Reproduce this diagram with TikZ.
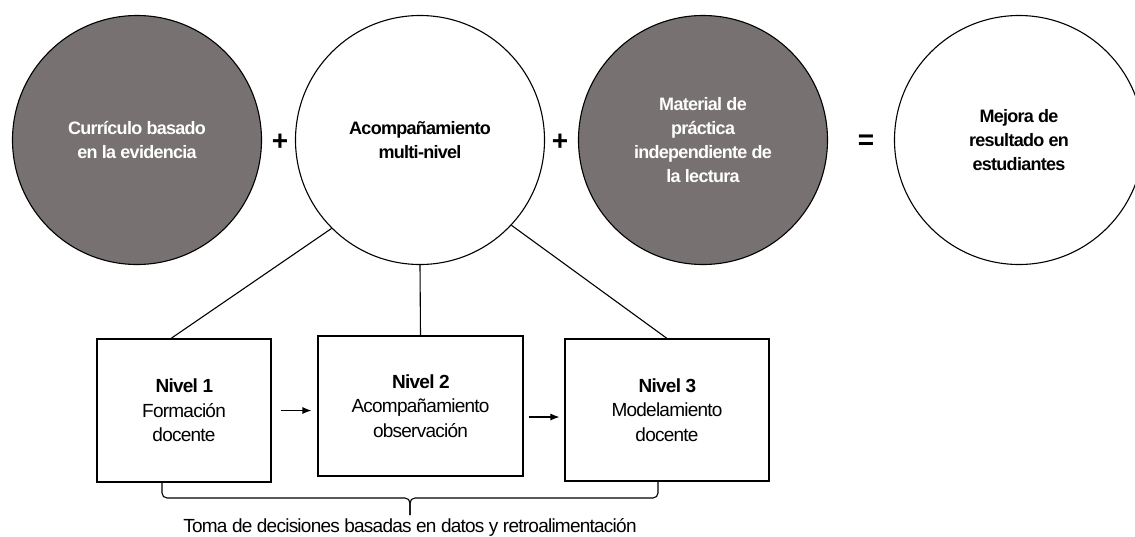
\documentclass[tikz,border=0pt]{standalone}
\usepackage{fontspec}
\setmainfont[LetterSpace=-4]{Liberation Sans}
\usetikzlibrary{arrows.meta}
\definecolor{grisc}{RGB}{119,113,113}

\begin{document}
\begin{tikzpicture}[x=1pt,y=-1pt,line width=1.1pt,
  circ/.style={circle,draw,minimum size=249pt,inner sep=0pt,align=center,
    font=\fontsize{18}{24}\selectfont\bfseries},
  gris/.style={circ,fill=grisc,text=white},
  nivel/.style={draw,align=center,inner sep=0pt,
    font=\fontsize{19}{24.5}\selectfont},
  flecha/.style={-{Latex[length=9pt,width=7pt]}},
  signo/.style={font=\fontsize{28}{28}\selectfont\bfseries}]
 \useasboundingbox (0,0) rectangle (1135,536);
 % fila de arriba
 \node[gris] (c1) at (137,140) {Currículo basado\\en la evidencia};
 \node[circ] (c2) at (420,140) {Acompañamiento\\multi-nivel};
 \node[gris] (c3) at (703,140) {Material de\\práctica\\independiente de\\la lectura};
 \node[circ] (c4) at (1019,140) {Mejora de\\resultado en\\estudiantes};
 \node[signo] (mas1) at (280,142) {+};
 \node[signo] (mas2) at (560,142) {+};
 \node[signo] (igual) at (866,142) {=};
 % niveles
 \node[nivel,minimum width=174pt,minimum height=143pt] (n1) at (184,410.5)
   {\textbf{Nivel 1}\\Formación\\docente};
 \node[nivel,minimum width=205pt,minimum height=140pt] (n2) at (420.5,406)
   {\textbf{Nivel 2}\\Acompañamiento\\observación};
 \node[nivel,minimum width=204pt,minimum height=142pt] (n3) at (667,410)
   {\textbf{Nivel 3}\\Modelamiento\\docente};
 \draw (c2.225) -- ([xshift=-13pt]n1.north);
 \draw (c2.south) -- (n2.north);
 \draw (c2.317) -- (n3.north);
 \draw[flecha,shorten <=9pt,shorten >=6pt] (n1.east) -- (n1.east -| n2.west);
 \path (n2.east) ++(0,11) coordinate (a2);
 \draw[flecha,shorten <=5pt,shorten >=5pt] (a2) -- (a2 -| n3.west);
 % llave
 \draw[rounded corners=5pt] (162,482) -- (162,498) -- (410,498) -- (410,515);
 \draw[rounded corners=5pt] (658,482) -- (658,498) -- (410,498) -- (410,515);
 \node[font=\fontsize{19}{20}\selectfont] (toma) at (410,527)
   {Toma de decisiones basadas en datos y retroalimentación};
\end{tikzpicture}
\end{document}
